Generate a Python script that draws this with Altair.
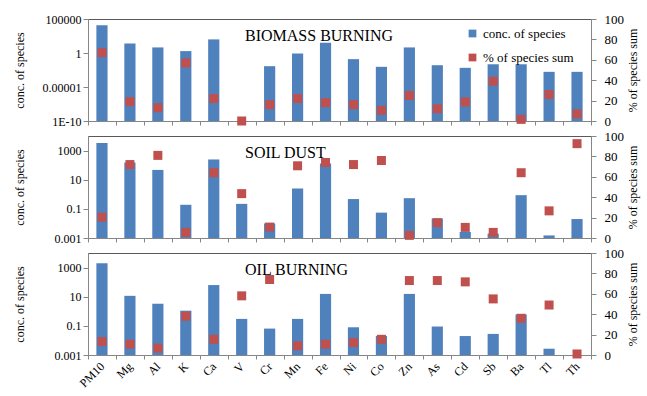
import altair as alt
import pandas as pd

categories = ["PM10", "Mg", "Al", "K", "Ca", "V", "Cr", "Mn", "Fe", "Ni",
              "Co", "Zn", "As", "Cd", "Sb", "Ba", "Tl", "Th"]

biomass_conc = [12000, 25, 6.6, 1.9, 100, 1e-10, 0.0115, 0.85, 32, 0.125,
                0.0093, 6.6, 0.016, 0.0066, 0.022, 0.022, 0.0017, 0.0017]
biomass_pct = [67, 19, 13, 57, 22, 0, 16, 22, 18, 16,
               10.5, 25, 12, 18.7, 39, 1.6, 26, 7]

soil_conc = [3300, 150, 47, 0.19, 245, 0.22, 0.01, 2.5, 130, 0.47,
             0.055, 0.54, 0.022, 0.0026, 0.002, 0.87, 0.0015, 0.02]
soil_pct = [20.4, 72, 81, 5.5, 64, 43.5, 10.7, 70.8, 74, 72,
            76, 2.6, 15, 10.4, 5.5, 64, 26.6, 92.5]

oil_conc = [1950, 11.5, 3.3, 1.1, 63, 0.3, 0.065, 0.3, 15.6, 0.08,
            0.02, 15.6, 0.09, 0.02, 0.028, 0.6, 0.0027, 0.001]
oil_pct = [13.2, 10.6, 6.8, 38, 15.4, 58, 74, 9, 10.6, 12.2,
           15.4, 73, 73, 71.7, 55, 36, 49, 1]

panel_titles = ["BIOMASS BURNING", "SOIL DUST", "OIL BURNING"]
series_names = ["conc. of species", "% of species sum"]

ticks_top = [1e-10, 1e-5, 1, 1e5]
domain_top = [1e-10, 1e5]
ticks_low = [0.001, 0.1, 10, 1000]
domain_low = [0.001, 10000]
pct_ticks = [0, 20, 40, 60, 80, 100]

BLUE = "#4F81BD"
RED = "#C0504D"
AX = "#868686"
FONT = "Liberation Serif"

color_scale = alt.Scale(domain=series_names, range=[BLUE, RED])


def panel(conc, pct, title, y_vals, y_domain, bottom, legend):
    df = pd.DataFrame({"element": categories, "conc": conc, "pct": pct})
    x_axis = alt.Axis(title=None, labels=bottom, tickBand="extent",
                      labelAngle=-45, labelAlign="right", labelBaseline="middle",
                      labelFontSize=12, labelPadding=5, tickSize=4)
    x = alt.X("element:N", sort=categories,
              scale=alt.Scale(paddingInner=0, paddingOuter=0), axis=x_axis)
    if legend:
        cb = alt.Color("series:N", scale=color_scale,
                       legend=alt.Legend(title=None, orient="none",
                                         legendX=378, legendY=8,
                                         symbolType="square", symbolSize=60,
                                         labelFont=FONT, labelFontSize=13,
                                         labelColor="black", rowPadding=10,
                                         symbolStrokeWidth=0))
        cs = alt.Color("series:N", scale=color_scale)
    else:
        cb = alt.value(BLUE)
        cs = alt.value(RED)
    base = alt.Chart(df)
    bars = base.mark_bar(width=alt.RelativeBandSize(0.4)).transform_calculate(
        series="'" + series_names[0] + "'"
    ).encode(
        x=x,
        y=alt.Y("conc:Q",
                scale=alt.Scale(type="log", domain=y_domain, clamp=True),
                axis=alt.Axis(values=y_vals, labelExpr="upper(toString(datum.value))",
                              title="conc. of species", orient="left",
                              labelFontSize=12,
                              titlePadding=16 if y_domain[0] < 1e-6 else 28)),
        y2=alt.datum(y_domain[0]),
        color=cb,
    )
    squares = base.mark_square(size=81, opacity=1).transform_calculate(
        series="'" + series_names[1] + "'"
    ).encode(
        x=x,
        y=alt.Y("pct:Q", scale=alt.Scale(domain=[0, 100]),
                axis=alt.Axis(values=pct_ticks, title="% of species sum",
                              orient="right", titleAngle=270, titlePadding=16,
                              labelPadding=8)),
        color=cs,
    )
    return alt.layer(bars, squares).resolve_scale(y="independent").properties(
        width=503, height=102,
        title=alt.TitleParams(title, anchor="start", frame="group", dx=157,
                              offset=-31, font=FONT, fontSize=16,
                              fontWeight="normal", color="black"),
    )


p1 = panel(biomass_conc, biomass_pct, panel_titles[0], ticks_top, domain_top, False, True)
p2 = panel(soil_conc, soil_pct, panel_titles[1], ticks_low, domain_low, False, False)
p3 = panel(oil_conc, oil_pct, panel_titles[2], ticks_low, domain_low, True, False)

chart = alt.vconcat(p1, p2, p3, spacing=0).resolve_scale(color="independent").properties(
    padding={"left": 12, "top": 12, "right": 5, "bottom": 5},
    background="white",
).configure_view(stroke="#595959", strokeWidth=1).configure_axis(
    grid=False, labelFont=FONT, labelFontSize=13, labelColor="black",
    titleFont=FONT, titleFontSize=12, titleFontWeight="normal", titleColor="black",
    domainColor=AX, tickColor=AX,
)

chart.save("out.html", embed_options={"renderer": "svg", "actions": False})
